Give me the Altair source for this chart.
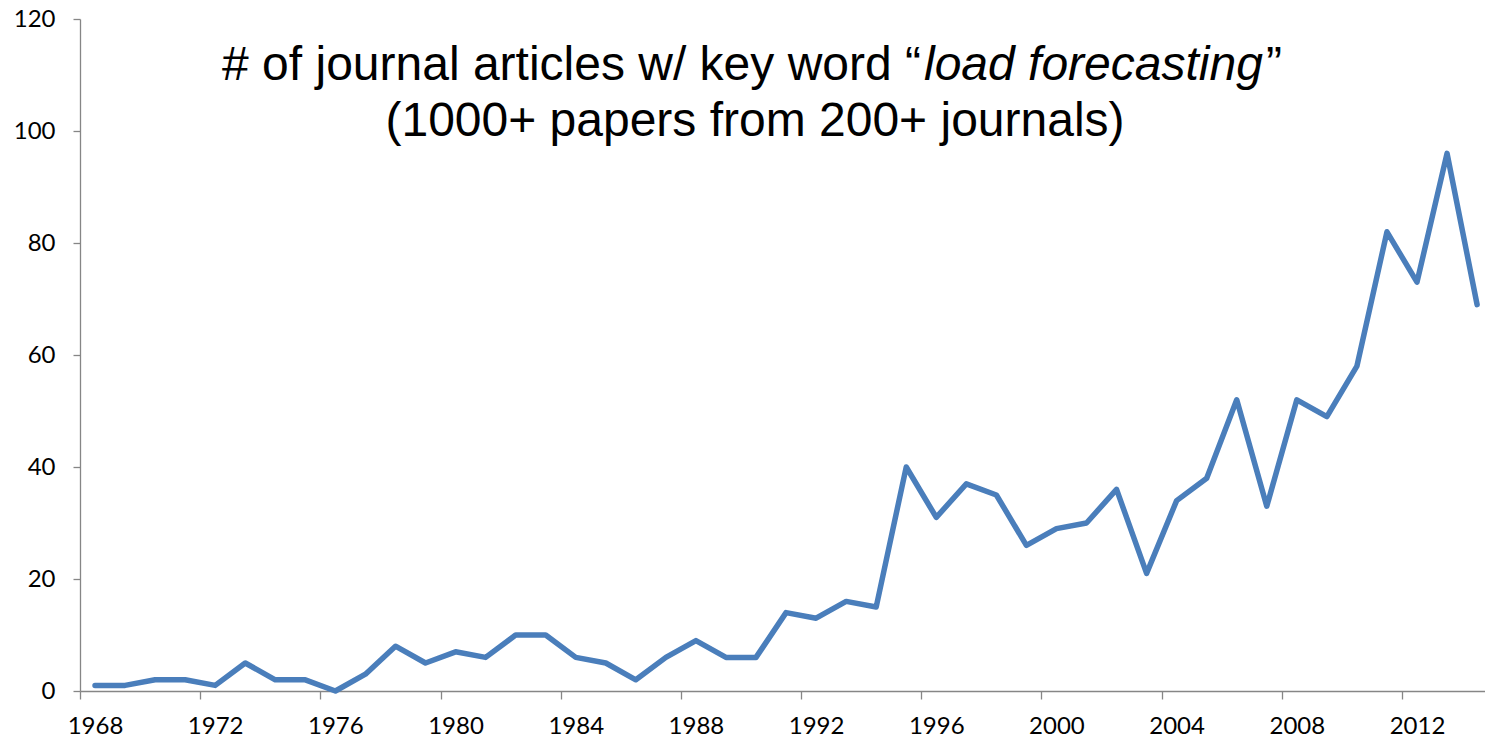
import altair as alt
import pandas as pd

# Yearly counts of journal articles with the key word "load forecasting"
years = list(range(1968, 2015))
articles = [1, 1, 2, 2, 1, 5, 2, 2, 0, 3,
            8, 5, 7, 6, 10, 10, 6, 5, 2, 6,
            9, 6, 6, 14, 13, 16, 15, 40, 31, 37,
            35, 26, 29, 30, 36, 21, 34, 38, 52, 33,
            52, 49, 58, 82, 73, 96, 69]

# Title pieces (the key word is set in italics)
title_lead = ["# of journal articles w/ key word \u201c"]
title_key = ["load forecasting"]
title_close = ["\u201d"]
subtitle = ["(1000+ papers from 200+ journals)"]

df = pd.DataFrame({"year": years, "articles": articles})

# Category-style axis: one 1-year slot per point, ticks on slot boundaries
tick_bounds = [y - 0.5 for y in years[::4]]
x_domain = [years[0] - 0.5, years[0] - 0.5 + 1405 / 30.045]

AXIS_GRAY = "#868686"
LABEL_FONT = "Lato"
TITLE_FONT = "Liberation Sans"

line = alt.Chart(df).mark_line(
    color="#4A7EBB", strokeWidth=5.5, strokeCap="round", strokeJoin="round"
).encode(
    x=alt.X("year:Q",
            scale=alt.Scale(domain=x_domain, nice=False, zero=False),
            axis=alt.Axis(values=tick_bounds, labelExpr="format(datum.value + 0.5, 'd')",
                          labelOffset=15, title=None, grid=False,
                          domainColor=AXIS_GRAY, domainWidth=1.3,
                          tickColor=AXIS_GRAY, tickWidth=1.3, tickSize=8,
                          labelFont=LABEL_FONT, labelFontSize=24, labelColor="#000000",
                          labelPadding=15, labelFlush=False, labelOverlap=False)),
    y=alt.Y("articles:Q",
            scale=alt.Scale(domain=[0, 120], nice=False),
            axis=alt.Axis(values=[0, 20, 40, 60, 80, 100, 120], title=None, grid=False,
                          domainColor=AXIS_GRAY, domainWidth=1.3,
                          tickColor=AXIS_GRAY, tickWidth=1.3, tickSize=7,
                          labelFont=LABEL_FONT, labelFontSize=24, labelColor="#000000",
                          labelPadding=18)),
)

def title_text(values, x, y, align, style="normal"):
    return alt.Chart(pd.DataFrame({"t": values})).mark_text(
        font=TITLE_FONT, fontSize=48, fontStyle=style, color="#000000",
        align=align, baseline="alphabetic"
    ).encode(text="t:N", x=alt.value(x), y=alt.value(y))

lead = title_text(title_lead, 841, 61, "right")
key = title_text(title_key, 844, 61, "left", "italic")
close = title_text(title_close, 1186, 61, "left")
sub = title_text(subtitle, 675, 117, "center")

chart = alt.layer(line, lead, key, close, sub).properties(
    width=1405, height=672,
    autosize=alt.AutoSizeParams(type="none"),
    padding={"left": 80, "top": 19, "right": 0, "bottom": 46},
    background="#ffffff",
).configure_view(stroke=None)

chart.save("out.html", embed_options={"renderer": "svg", "actions": False})
